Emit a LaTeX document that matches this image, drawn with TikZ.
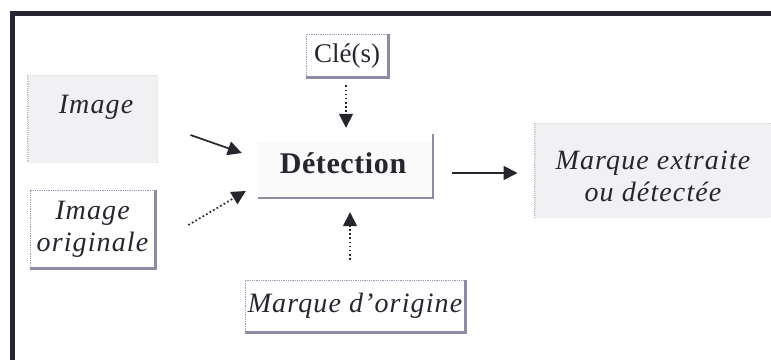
\documentclass[tikz,border=0pt]{standalone}
\usepackage{fontspec}
\setmainfont{Liberation Serif}
\newfontfamily\widefont[LetterSpace=4]{Liberation Serif}
\newfontfamily\boldwide[LetterSpace=2]{Liberation Serif}
\usetikzlibrary{arrows.meta,calc}
\definecolor{framec}{HTML}{262633}
\definecolor{ink}{HTML}{26262F}
\definecolor{boxfill}{HTML}{F1F1F4}
\definecolor{shadowc}{HTML}{8C8CA4}
\definecolor{dotc}{HTML}{9A9AB4}
\tikzset{
 every node/.style={inner sep=0pt, text=ink},
 dotbox/.style={draw=dotc, densely dotted, line width=0.8pt, fill=white},
 greybox/.style={fill=boxfill, draw=gray!30, densely dotted, line width=1pt},
 shade line/.style={draw=shadowc, line width=2.2pt},
 arr/.style={draw=ink, line width=1.7pt, -{Triangle[length=14pt,width=14pt]}},
 darr/.style={arr, dash pattern=on 1.7pt off 2.4pt},
 lbl/.style={font=\widefont\fontsize{28}{32}\selectfont\itshape, align=center},
}
\begin{document}
\begin{tikzpicture}[x=1pt,y=-1pt]
\useasboundingbox (0,0) rectangle (771,360);
\fill[white] (0,0) rectangle (771,360);
\draw[framec, line width=5pt] (12,360) -- (12,13.5) -- (771,13.5);

% Image
\node[greybox, minimum width=129, minimum height=87] (img) at (92.5,118.5) {};
\draw[draw=dotc!70, line width=1.2pt, densely dotted] (img.north west) -- (img.south west);
\node[lbl] (imgt) at (96,107) {Image};

% Image originale
\node[dotbox, lbl, minimum width=125, minimum height=78] (imgo) at (92.5,229) {Image\\originale};
\draw[shade line] (imgo.north east) -- (imgo.south east) -- (imgo.south west);

% Cle(s)
\node[dotbox, minimum width=82, minimum height=43, font=\fontsize{27}{30}\selectfont] (key) at (347,55.5) {Clé(s)};
\draw[shade line] (key.north east) -- (key.south east) -- (key.south west);

% Detection
\node[fill=gray!4, minimum width=175, minimum height=56] (det) at (345.5,170) {};
\draw[draw=shadowc, line width=1.6pt] ([yshift=8]det.north east) -- (det.south east) -- (det.south west);
\node[font=\boldwide\fontsize{30}{32}\selectfont\bfseries] (dett) at (343,163) {Détection};

% Marque extraite
\node[greybox, minimum width=236, minimum height=94] (out) at (653,170) {};
\draw[draw=dotc!70, line width=1.2pt, densely dotted] (out.north west) -- (out.south west);
\node[lbl] (outt) at (653,176) {Marque extraite\\ou détectée};

% Marque d'origine
\node[dotbox, lbl, minimum width=220, minimum height=52] (orig) at (355,306) {Marque d’origine};
\draw[shade line] (orig.north east) -- (orig.south east) -- (orig.south west);

% connectors
\draw[arr] ([shift={(33,16.5)}]img.east) -- ([shift={(-16,-17)}]det.west);
\draw[darr] ([shift={(33,-4)}]imgo.east) -- ([shift={(-12,21)}]det.west);
\draw[darr] ([shift={(-1,8)}]key.south) -- ([shift={(0.5,-14)}]det.north);
\draw[darr] ([shift={(-5,-20)}]orig.north) -- ([shift={(4.5,14)}]det.south);
\draw[arr] ([shift={(19,3)}]det.east) -- ([shift={(-17,3)}]out.west);
\end{tikzpicture}
\end{document}
